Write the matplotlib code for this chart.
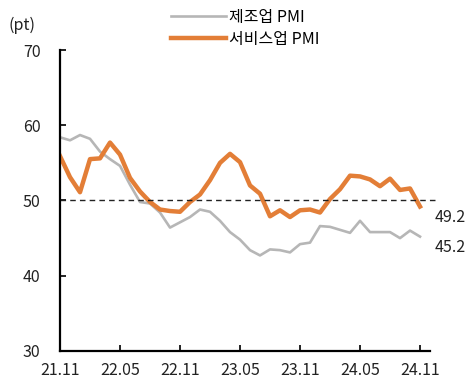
import matplotlib
matplotlib.use('Agg')
import matplotlib.pyplot as plt

plt.rcParams['font.family'] = ['Noto Sans CJK KR', 'DejaVu Sans']

# 월별 데이터 (21.11 ~ 24.11)
months = ['21.11', '21.12', '22.01', '22.02', '22.03', '22.04', '22.05', '22.06', '22.07',
          '22.08', '22.09', '22.10', '22.11', '22.12', '23.01', '23.02', '23.03', '23.04',
          '23.05', '23.06', '23.07', '23.08', '23.09', '23.10', '23.11', '23.12', '24.01',
          '24.02', '24.03', '24.04', '24.05', '24.06', '24.07', '24.08', '24.09', '24.10',
          '24.11']
manufacturing = [58.4, 58.0, 58.7, 58.2, 56.5, 55.5, 54.6, 52.1, 49.8, 49.6, 48.4, 46.4,
                 47.1, 47.8, 48.8, 48.5, 47.3, 45.8, 44.8, 43.4, 42.7, 43.5, 43.4, 43.1,
                 44.2, 44.4, 46.6, 46.5, 46.1, 45.7, 47.3, 45.8, 45.8, 45.8, 45.0, 46.0,
                 45.2]
services = [55.9, 53.1, 51.1, 55.5, 55.6, 57.7, 56.1, 53.0, 51.2, 49.8, 48.8, 48.6,
            48.5, 49.8, 50.8, 52.7, 55.0, 56.2, 55.1, 52.0, 50.9, 47.9, 48.7, 47.8,
            48.7, 48.8, 48.4, 50.2, 51.5, 53.3, 53.2, 52.8, 51.9, 52.9, 51.4, 51.6,
            49.2]
tick_labels = ['21.11', '22.05', '22.11', '23.05', '23.11', '24.05', '24.11']

x = list(range(len(months)))
tick_pos = [months.index(t) for t in tick_labels]

fig = plt.figure(figsize=(4.77, 3.88), dpi=100)
ax = fig.add_axes([0.1258, 0.0954, 0.9015 - 0.1258, 0.8711 - 0.0954])

ax.plot(x, manufacturing, color='#b6b6b6', lw=1.9, label='제조업 PMI')
ax.plot(x, services, color='#e37e37', lw=3.2, label='서비스업 PMI')
ax.hlines(50, 0, 37.9, colors='#222222', linestyles=(0, (4, 3)), lw=1.0, clip_on=False)

ax.set_xlim(0, 37)
ax.set_ylim(30, 70)
ax.set_yticks([30, 40, 50, 60, 70])
ax.set_xticks(tick_pos)
ax.set_xticklabels(tick_labels)

for s in ['top', 'right']:
    ax.spines[s].set_visible(False)
for s in ['left', 'bottom']:
    ax.spines[s].set_linewidth(1.6)
ax.tick_params(axis='both', direction='in', length=4, width=1.4, labelsize=11.5,
               colors='#222222')
ax.tick_params(axis='y', pad=14)
ax.tick_params(axis='x', pad=8)

# 마지막 값 표시
ax.text(37.5, services[-1] - 1.5, f'{services[-1]:.1f}', fontsize=11.5,
        va='center', ha='left', color='#222222')
ax.text(37.5, manufacturing[-1] - 1.4, f'{manufacturing[-1]:.1f}', fontsize=11.5,
        va='center', ha='left', color='#222222')

fig.text(8 / 477, 1 - 25 / 388, '(pt)', fontsize=11.5,
         va='center', ha='left', color='#222222')

leg = ax.legend(loc='upper left', bbox_to_anchor=(0.262, 1.185), frameon=False,
                fontsize=11.5, handlelength=3.4, handletextpad=0.2, labelspacing=0.3)

fig.savefig('out.png', dpi=100)
